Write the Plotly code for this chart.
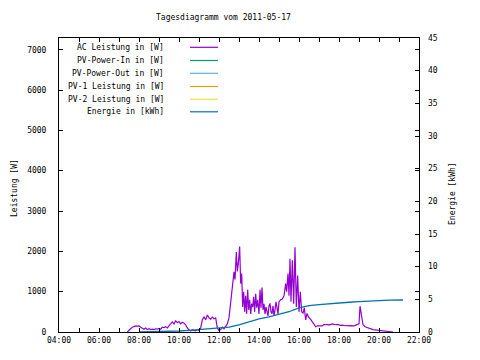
import plotly.graph_objects as go

DATE = "2011-05-17"

ac_time = ["07:25","07:30","07:35","07:40","07:45","07:50","07:55","08:00","08:05","08:10","08:15","08:20","08:25","08:30","08:35","08:40","08:45","08:50","08:55",
           "09:00","09:05","09:10","09:15","09:20","09:25","09:30","09:35","09:40","09:45","09:50","09:55",
           "10:00","10:05","10:10","10:15","10:20","10:25","10:30","10:35","10:40","10:45","10:50","10:55",
           "11:00","11:05","11:10","11:15","11:20","11:25","11:30","11:35","11:40","11:45","11:50","11:55",
           "12:00","12:05","12:10","12:15","12:20","12:25","12:30","12:35","12:40","12:45","12:48","12:52","12:55","12:58",
           "13:02","13:05","13:08","13:11","13:14","13:17","13:20","13:23","13:26","13:29","13:32","13:35","13:38","13:41","13:44","13:47","13:50","13:53","13:56",
           "14:00","14:03","14:06","14:09","14:12","14:15","14:18","14:21","14:24","14:27","14:30","14:33","14:36","14:39","14:42","14:45","14:48","14:51","14:54","14:57",
           "15:00","15:05","15:10","15:15","15:20","15:23","15:27","15:30","15:33","15:36","15:40","15:44","15:48","15:52","15:56",
           "16:00","16:04","16:08","16:12","16:16","16:20","16:24","16:28","16:32","16:36","16:40","16:45","16:50","16:55",
           "17:00","17:05","17:10","17:15","17:20","17:25","17:30","17:35","17:40","17:45","17:50","17:55",
           "18:00","18:05","18:10","18:15","18:20","18:25","18:30","18:35","18:40","18:45","18:50","18:55",
           "19:00","19:03","19:06","19:09","19:12","19:18","19:24","19:30","19:36","19:42","19:48","19:54",
           "20:00","20:10","20:20","20:30","20:42"]
ac_power = [0,30,80,120,140,150,145,150,120,90,70,100,60,80,60,70,60,80,70,
            90,70,120,110,130,100,150,200,250,200,280,230,
            260,200,240,220,180,100,50,30,50,40,30,60,
            40,100,300,380,300,420,350,320,370,330,350,100,
            40,60,120,80,150,200,350,700,1035,1490,1300,1980,1500,1700,
            2120,1200,1450,620,1000,500,900,450,1050,550,800,450,700,620,870,500,950,600,800,
            450,1050,600,1100,550,700,450,620,500,400,650,710,500,450,650,400,550,750,600,450,
            750,800,820,900,1200,1000,1450,900,1815,750,1780,700,2100,620,1400,
            500,1000,500,470,600,300,460,380,350,300,250,200,130,155,
            150,160,150,190,180,190,170,190,200,190,180,190,
            170,165,170,160,155,160,150,160,155,150,170,190,
            200,640,460,300,180,130,110,80,65,60,55,50,
            30,25,10,8,0]

en_time = ["08:00","09:00","09:40","10:00","10:30","11:00","11:30","12:00","12:30","13:00","13:30","14:00","14:30",
           "15:00","15:30","16:00","16:30","17:00","17:30","18:00","18:30","19:00","19:30","20:00","20:30","21:12"]
en_kwh = [0.0,0.05,0.1,0.15,0.25,0.35,0.5,0.6,0.75,1.1,1.6,2.0,2.3,
          2.65,3.1,3.7,4.05,4.2,4.35,4.45,4.55,4.65,4.75,4.8,4.88,4.9]

pv_in, pv_out, pv1, pv2 = [], [], [], []

names = ["AC Leistung in [W]", "PV-Power-In in [W]", "PV-Power-Out in [W]",
         "PV-1 Leistung in [W]", "PV-2 Leistung in [W]", "Energie in [kWh]"]
colors = ["#9400D3", "#009E73", "#56B4E9", "#E69F00", "#F0E442", "#0072B2"]

def ts(lst):
    return [f"{DATE} {t}" for t in lst]

FONT = "DejaVu Sans Mono"
fig = go.Figure()
fig.add_trace(go.Scatter(x=ts(ac_time), y=ac_power, mode="lines", name=names[0],
                         line=dict(color=colors[0], width=1.2)))
for nm, col, d in zip(names[1:5], colors[1:5], [pv_in, pv_out, pv1, pv2]):
    fig.add_trace(go.Scatter(x=[], y=d, mode="lines", name=nm,
                             line=dict(color=col, width=1)))
fig.add_trace(go.Scatter(x=ts(en_time), y=en_kwh, mode="lines", name=names[5], yaxis="y2",
                         line=dict(color=colors[5], width=1.3)))

# plot area in page pixels (page body has 8px default margin)
OFF = 8
L, R, T, B = 59, 419, 38, 332
W, H = R - L, B - T
FW, FH = 480 - OFF, 360 - OFF
px = lambda x: (x - L) / W
py = lambda y: (B - y) / H

ann = []
shapes = []
rows = [47.3, 60.5, 73.3, 86.5, 99.3, 111.8]
for nm, col, yy in zip(names, colors, rows):
    ann.append(dict(x=px(166), y=py(yy), xref="paper", yref="paper", text=nm, showarrow=False,
                    xanchor="right", yanchor="middle", font=dict(family=FONT, size=8, color="black")))
    shapes.append(dict(type="line", xref="paper", yref="paper", x0=px(190), x1=px(218),
                       y0=py(yy), y1=py(yy), line=dict(color=col, width=1.2)))
ann.append(dict(x=px(223), y=py(17), xref="paper", yref="paper", text="Tagesdiagramm vom 2011-05-17",
                showarrow=False, xanchor="center", yanchor="middle", font=dict(family=FONT, size=8, color="black")))
ann.append(dict(x=px(14), y=py(188), xref="paper", yref="paper", text="Leistung [W]", textangle=-90,
                showarrow=False, xanchor="center", yanchor="middle", font=dict(family=FONT, size=8, color="black")))
ann.append(dict(x=px(453), y=py(194), xref="paper", yref="paper", text="Energie [kWh]", textangle=-90,
                showarrow=False, xanchor="center", yanchor="middle", font=dict(family=FONT, size=8, color="black")))

fig.update_layout(
    width=FW, height=FH,
    margin=dict(l=L - OFF, r=FW - (R - OFF), t=T - OFF, b=FH - (B - OFF), pad=0, autoexpand=False),
    paper_bgcolor="white", plot_bgcolor="white", showlegend=False,
    font=dict(family=FONT, size=8, color="black"),
    annotations=ann, shapes=shapes,
    xaxis=dict(type="date", range=[f"{DATE} 04:00", f"{DATE} 22:00"], dtick=7200000, tickformat="%H:%M",
               tick0=f"{DATE} 00:00", ticks="inside", ticklen=4, tickcolor="black", showgrid=False,
               showline=True, linecolor="black", linewidth=1, mirror="ticks", zeroline=False,
               minor=dict(dtick=3600000, ticks="inside", ticklen=4, tickcolor="black", showgrid=False)),
    yaxis=dict(range=[0, 7290], dtick=1000, ticks="inside", ticklen=4, tickcolor="black", showgrid=False,
               showline=True, linecolor="black", linewidth=1, mirror="ticks", zeroline=False,
               ticklabelstandoff=10),
    yaxis2=dict(range=[0, 45], dtick=5, overlaying="y", side="right", ticks="inside", ticklen=4,
                tickcolor="black", showgrid=False, showline=False, zeroline=False, ticklabelstandoff=8),
)
fig.write_html("out.html")
